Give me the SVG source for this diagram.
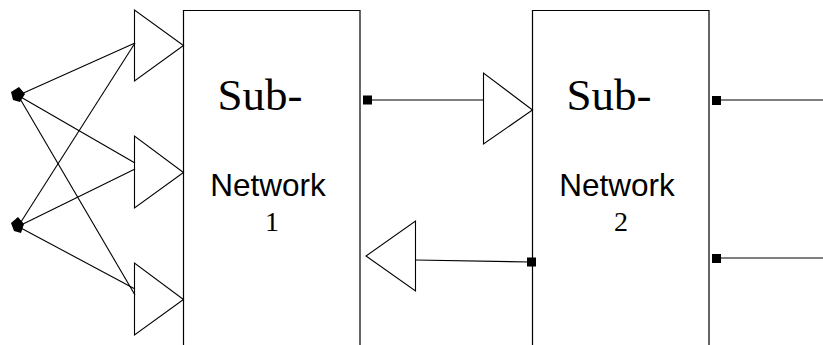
<svg xmlns="http://www.w3.org/2000/svg" width="823" height="345" viewBox="0 0 823 345">
  <style>
    .box { fill: #fff; stroke: #000; stroke-width: 1.2; }
    .tri { fill: #fff; stroke: #000; stroke-width: 1.1; stroke-linejoin: miter; }
    .wire { fill: none; stroke: #000; stroke-width: 1.1; }
    .port { fill: #000; }
    .sub { font-family: "Liberation Serif", "Times New Roman", serif; font-size: 45px; fill: #000; }
    .net { font-family: "Liberation Sans", Arial, sans-serif; font-size: 31.5px; fill: #000; }
    .num { font-family: "Liberation Serif", "Times New Roman", serif; font-size: 28px; fill: #000; }
  </style>

  <!-- Sub-network blocks (open at the bottom edge) -->
  <g id="subnetwork1">
    <path class="box" d="M183.5,345 V10.5 H360 V345"/>
    <text class="sub" x="260" y="110" text-anchor="middle">Sub-</text>
    <text class="net" x="268" y="196" text-anchor="middle">Network</text>
    <text class="num" x="272" y="231" text-anchor="middle">1</text>
  </g>
  <g id="subnetwork2">
    <path class="box" d="M532.5,345 V10.5 H709 V345"/>
    <text class="sub" x="609" y="110" text-anchor="middle">Sub-</text>
    <text class="net" x="617" y="196" text-anchor="middle">Network</text>
    <text class="num" x="621" y="231" text-anchor="middle">2</text>
  </g>

  <!-- Input buffers -->
  <g id="buffer-in1"><polygon class="tri" points="134.5,10 134.5,81 183.5,45.5"/></g>
  <g id="buffer-in2"><polygon class="tri" points="134.5,136 134.5,208 183.5,172.5"/></g>
  <g id="buffer-in3"><polygon class="tri" points="134.5,263 134.5,335 183.5,299.5"/></g>
  <g id="buffer-fwd"><polygon class="tri" points="483.5,73 483.5,144 532.5,110"/></g>
  <g id="buffer-back"><polygon class="tri" points="415.5,221 415.5,291 366,256"/></g>

  <!-- Source terminals -->
  <g id="source1"><polygon class="port" points="11,92 19,87 25,94 20,102 13,100"/></g>
  <g id="source2"><polygon class="port" points="11,223 18,217 24,224 21,233 14,231"/></g>

  <!-- Connectors -->
  <g id="connectors">
    <line class="wire" x1="19" y1="95" x2="135" y2="43"/>
    <line class="wire" x1="19" y1="96" x2="135" y2="163"/>
    <line class="wire" x1="19" y1="97" x2="135" y2="295"/>
    <line class="wire" x1="19" y1="225" x2="135" y2="43"/>
    <line class="wire" x1="19" y1="226" x2="135" y2="169"/>
    <line class="wire" x1="19" y1="227" x2="135" y2="289"/>

    <line class="wire" x1="367" y1="100" x2="483.5" y2="100"/>
    <line class="wire" x1="415.5" y1="260" x2="531" y2="262"/>
    <line class="wire" x1="716" y1="100" x2="823" y2="100"/>
    <line class="wire" x1="716" y1="258" x2="823" y2="258"/>

    <rect class="port" x="363" y="95.5" width="9" height="9"/>
    <rect class="port" x="527" y="257.5" width="9" height="9"/>
    <rect class="port" x="712" y="96" width="9" height="9"/>
    <rect class="port" x="712" y="254" width="9" height="9"/>
  </g>
</svg>
